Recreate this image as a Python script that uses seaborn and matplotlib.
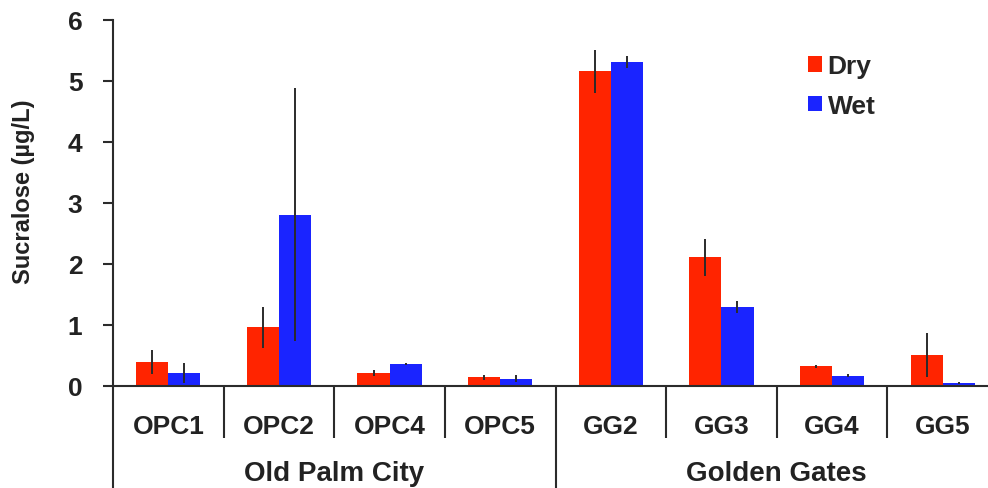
import numpy as np
import pandas as pd
import matplotlib
matplotlib.use("Agg")
import matplotlib.pyplot as plt
import seaborn as sns
from matplotlib.patches import Patch
from matplotlib.transforms import blended_transform_factory

# Sucralose concentrations per sampling site, dry vs wet season
sites = ["OPC1", "OPC2", "OPC4", "OPC5", "GG2", "GG3", "GG4", "GG5"]
regions = ["Old Palm City", "Golden Gates"]
region_sizes = [4, 4]
dry_mean = [0.39, 0.96, 0.21, 0.14, 5.16, 2.11, 0.32, 0.51]
dry_err = [0.20, 0.34, 0.05, 0.04, 0.35, 0.30, 0.03, 0.36]
wet_mean = [0.21, 2.81, 0.36, 0.12, 5.31, 1.30, 0.17, 0.05]
wet_err = [0.16, 2.08, 0.01, 0.06, 0.10, 0.10, 0.02, 0.01]
seasons = ["Dry", "Wet"]
yticks = [0, 1, 2, 3, 4, 5, 6]

RED = "#FF2400"
BLUE = "#1A24FF"
INK = "#2b2b2b"

sns.set_theme(style="white")
plt.rcParams["font.family"] = ["Liberation Sans", "DejaVu Sans"]
plt.rcParams["font.weight"] = "bold"

df = pd.DataFrame({
    "site": sites * 2,
    "season": [seasons[0]] * len(sites) + [seasons[1]] * len(sites),
    "value": dry_mean + wet_mean,
})
errors = {"Dry": dry_err, "Wet": wet_err}

fig = plt.figure(figsize=(9.88, 4.89), dpi=100)
ax = fig.add_axes([0.1144, 0.2086, 0.8957, 0.7485])

sns.barplot(data=df, x="site", y="value", hue="season", order=sites,
            hue_order=seasons, palette=[RED, BLUE], width=0.58, gap=0,
            errorbar=None, saturation=1, linewidth=0, ax=ax, legend=False)

# error bars centred on each bar
for container, season in zip(ax.containers, seasons):
    xs = [b.get_x() + b.get_width() / 2 for b in container]
    ys = [b.get_height() for b in container]
    ax.errorbar(xs, ys, yerr=errors[season], fmt="none", ecolor=INK,
                elinewidth=1.4, capsize=0, zorder=5)

ax.set_xlim(-0.5, len(sites) - 0.5)
ax.set_ylim(0, 6)
ax.set_yticks(yticks)
ax.set_yticklabels([str(t) for t in yticks])
ax.set_xlabel("")
ax.set_ylabel("Sucralose (µg/L)", fontsize=17, fontweight="bold", color="#222222")
ax.yaxis.set_label_coords(-0.088, 0.533)

for side in ["top", "right"]:
    ax.spines[side].set_visible(False)
for side in ["left", "bottom"]:
    ax.spines[side].set_color(INK)
    ax.spines[side].set_linewidth(1.5)

ax.tick_params(axis="y", left=True, length=7, width=1.5, color=INK,
               direction="out", pad=15, labelsize=19, labelcolor="#222222")
ax.tick_params(axis="x", bottom=False, length=0, pad=20, labelsize=19,
               labelcolor="#222222")
for lab in ax.get_xticklabels() + ax.get_yticklabels():
    lab.set_fontweight("bold")

# category separators below the axis
trans = blended_transform_factory(ax.transData, ax.transAxes)
group_edges = np.cumsum([0] + region_sizes) - 0.5
for b in np.arange(-0.5, len(sites), 1.0):
    bottom = -0.40 if np.any(np.isclose(b, group_edges)) else -0.142
    ax.plot([b, b], [0, bottom], transform=trans, color=INK, lw=1.5,
            clip_on=False, solid_capstyle="butt")

# region labels
for name, lo, hi in zip(regions, group_edges[:-1], group_edges[1:]):
    ax.text((lo + hi) / 2, -0.258, name, transform=trans, ha="center",
            va="baseline", fontsize=20, fontweight="bold", color="#222222")

handles = [Patch(facecolor=RED, edgecolor="none", label=seasons[0]),
           Patch(facecolor=BLUE, edgecolor="none", label=seasons[1])]
ax.legend(handles=handles, loc="upper left", bbox_to_anchor=(0.785, 0.907),
          frameon=False, handlelength=0.55, handleheight=0.55,
          handletextpad=0.2, labelspacing=0.6, borderpad=0, borderaxespad=0,
          prop={"weight": "bold", "size": 19})

fig.savefig("out.png", dpi=100)
